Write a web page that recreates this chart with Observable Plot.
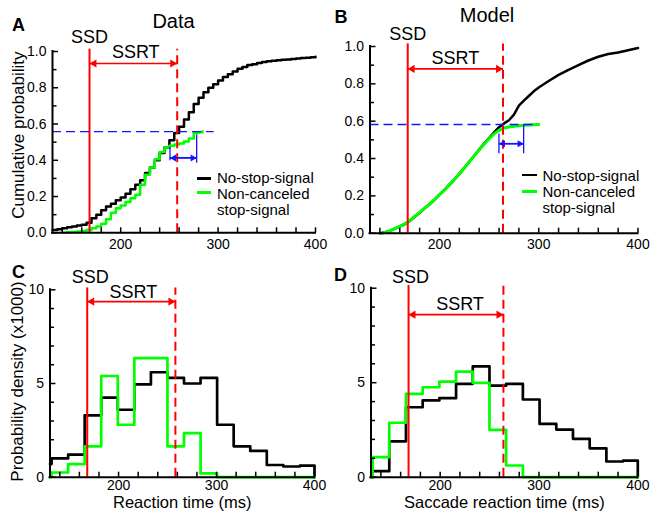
<!DOCTYPE html>
<html><head><meta charset="utf-8">
<script src="https://cdn.jsdelivr.net/npm/d3@7"></script>
<script src="https://cdn.jsdelivr.net/npm/@observablehq/plot@0.6"></script>
<style>
html,body{margin:0;padding:0;background:#fff;}
#fig{position:relative;width:651px;height:511px;overflow:hidden;font-family:"Liberation Sans",Arial,Helvetica,sans-serif;color:#000;}
.lg{position:absolute;font-size:15px;line-height:15px;white-space:nowrap;}
.sw{position:absolute;}
</style></head><body><div id="fig"></div>
<script>
// ---------- DATA ----------
const xDomain = [130, 400];
const xLabelTicks = [200, 300, 400];
const xMinorTicks = [140,160,180,200,220,240,260,280,300,320,340,360,380,400];
const cdfMajorTicks = [0,0.2,0.4,0.6,0.8,1.0];
const cdfMinorTicks = [0.1,0.3,0.5,0.7,0.9];
const pdfMajorTicks = [0,5,10];
const pdfMinorTicks = [1,2,3,4,6,7,8,9];

const ssd = 168;
const dataSsrtEnd = 258;
const modelSsrtEnd = 264;

// Panel A (data, cumulative)
const dataCdfTime = [130,135,140,145,150,155,160,165,170,175,180,185,190,195,200,205,210,215,220,225,230,235,240,245,250,255,260,265,270,275,280,285,290,295,300,305,310,315,320,325,330,335,340,345,350,355,360,365,370,375,380,385,390,395,400];
const dataNoStopCdf = [0.015,0.02,0.025,0.03,0.035,0.04,0.045,0.055,0.08,0.10,0.125,0.145,0.16,0.18,0.195,0.215,0.24,0.265,0.29,0.33,0.36,0.40,0.44,0.47,0.51,0.55,0.585,0.625,0.665,0.71,0.745,0.775,0.80,0.82,0.84,0.86,0.875,0.89,0.905,0.915,0.925,0.93,0.937,0.942,0.946,0.949,0.952,0.954,0.956,0.958,0.961,0.964,0.966,0.968,0.971];
const dataNcTime = [140,145,150,155,160,165,170,175,180,185,190,195,200,205,210,215,220,225,230,235,240,245,250,255,260,265,270,275,280,284];
const dataNonCanceledCdf = [0,0.003,0.005,0.007,0.01,0.015,0.025,0.035,0.05,0.075,0.11,0.135,0.15,0.17,0.19,0.21,0.265,0.32,0.36,0.405,0.445,0.47,0.48,0.487,0.493,0.503,0.52,0.55,0.555,0.56];

// Panel B (model, cumulative)
const modelCdfTime = [140,145,150,155,160,165,170,175,180,185,190,195,200,205,210,215,220,225,230,235,240,245,250,255,260,265,270,275,280,285,290,295,300,310,320,330,340,350,360,370,380,390,400];
const modelNoStopCdf = [0,0.005,0.012,0.025,0.036,0.048,0.065,0.088,0.11,0.133,0.155,0.18,0.207,0.232,0.26,0.288,0.318,0.35,0.383,0.415,0.448,0.48,0.51,0.54,0.568,0.588,0.605,0.635,0.683,0.71,0.735,0.76,0.78,0.815,0.848,0.875,0.9,0.925,0.945,0.96,0.968,0.98,0.992];
const modelNcTime = [143,145,150,155,160,165,170,175,180,185,190,195,200,205,210,215,220,225,230,235,240,245,250,255,260,265,270,275,280,285,290,300];
const modelNonCanceledCdf = [0,0.004,0.012,0.025,0.037,0.05,0.067,0.09,0.112,0.134,0.156,0.18,0.206,0.231,0.259,0.287,0.317,0.349,0.382,0.414,0.446,0.477,0.506,0.532,0.551,0.563,0.569,0.573,0.576,0.578,0.58,0.582];

// matched probability and RT shift (blue)
const dataMatch = {p: 0.558, dashEnd: 296, arrowY: 0.413};
const dataShiftBars = [{x: 250.6, y1: 0.398, y2: 0.471}, {x: 278, y1: 0.383, y2: 0.54}];
const modelMatch = {p: 0.582, dashEnd: 298, arrowY: 0.479};
const modelShiftBars = [{x: 259.9, y1: 0.425, y2: 0.532}, {x: 284.8, y1: 0.425, y2: 0.582}];

// Panels C, D (histograms, x1000); first bin is cut by the axis at 130
const histEdges = [130,131.6,148.5,165.4,182.3,199.2,216.1,233.0,249.9,266.8,283.7,300.6,317.5,334.4,351.3,368.2,385.1,400];
const dataNoStopPdf = [0.7,1.0,1.2,3.3,4.25,3.6,4.95,5.6,5.3,5.0,5.3,2.8,1.65,1.4,0.65,0.57,0.62];
const dataNonCanceledPdf = [0,0.25,0.7,1.65,5.4,2.8,6.35,6.35,1.65,2.35,0.2,0,0,0,0,0,0];
const modelNoStopPdf = [0,0.32,1.9,3.7,4.06,4.18,4.94,5.86,4.85,4.94,4.11,2.82,2.52,2.03,1.53,0.83,0.88];
const modelNonCanceledPdf = [0,1.06,2.88,4.41,4.76,5.06,5.59,4.99,2.5,0.62,0,0,0,0,0,0,0];

// ---------- DRAWING ----------
const FONT = '"Liberation Sans", Arial, Helvetica, sans-serif';
const RED = "#ff0000", GREEN = "#00ff00", BLUE = "#1414ff";
const STYLE = {background: "transparent", fontFamily: FONT, fontSize: "14px", color: "black", overflow: "visible"};
const fig = document.getElementById("fig");
const MID = {textAnchor: "middle", lineAnchor: "middle"};

const pts = (xs, ys) => xs.map((x, i) => ({x, y: ys[i]}));
function histPts(edges, vals) {
  const p = vals.map((v, i) => ({x: edges[i], y: v}));
  p.push({x: edges[edges.length - 1], y: vals[vals.length - 1]});
  p.push({x: edges[edges.length - 1], y: 0});
  return p;
}

function axes(g) {
  const fw = g.W - g.mL - g.mR, fh = g.H - g.mT - g.mB;
  const m = [
    Plot.ruleX(xMinorTicks, {insetTop: fh - 5, strokeWidth: 1.5}),
    Plot.ruleY(g.yMajor, {insetRight: fw - 6, strokeWidth: 1.5}),
    Plot.ruleY(g.yMinor, {insetRight: fw - 4.5, strokeWidth: 1.5}),
    Plot.axisX(xLabelTicks, {tickSize: 0, tickPadding: g.xPad, fontSize: 14, label: null}),
    Plot.axisY(g.yMajor, {tickSize: 0, tickPadding: 6, fontSize: 14, tickFormat: g.yFmt, label: null}),
    Plot.ruleX([xDomain[0]], {strokeWidth: 2, strokeLinecap: "square"}),
    Plot.ruleY([g.yDomain[0]], {strokeWidth: 2, strokeLinecap: "square"})
  ];
  if (g.yTitle) m.push(Plot.text([g.yTitle], {frameAnchor: "left", dx: g.yTitleDx, dy: g.yTitleDy, rotate: -90, fontSize: 17, ...MID}));
  if (g.xTitle) m.push(Plot.text([g.xTitle], {frameAnchor: "bottom", dy: 25.5, fontSize: 16.5, ...MID}));
  m.push(Plot.text([g.letter], {frameAnchor: "top-left", dx: g.letterDx, dy: g.letterDy, fontSize: 18, fontWeight: "bold", ...MID}));
  if (g.title) m.push(Plot.text([g.title], {frameAnchor: "top", dx: g.titleDx, dy: g.titleDy, fontSize: 20, ...MID}));
  return m;
}

function ssrtMarks(s) {
  const d = [s];
  return [
    Plot.ruleX(d, {x: "ssd", y1: 0, y2: "top", stroke: RED, strokeWidth: 2}),
    Plot.ruleX(d, {x: "end", y1: 0, y2: "top", stroke: RED, strokeWidth: 2, strokeDasharray: "9,5"}),
    Plot.link(d, {x1: "ssd", x2: "end", y1: "arrowY", y2: "arrowY", stroke: RED, strokeWidth: 1.6}),
    Plot.dot(d, {x: "ssd", y: "arrowY", symbol: "triangle", rotate: -90, r: 3, fill: RED, stroke: null, dx: 4.6}),
    Plot.dot(d, {x: "end", y: "arrowY", symbol: "triangle", rotate: 90, r: 3, fill: RED, stroke: null, dx: -4.6}),
    Plot.text(d, {x: "ssd", text: () => "SSD", frameAnchor: "top", dx: s.ssdDx, dy: s.ssdDy, fontSize: 18, ...MID}),
    Plot.text(d, {x: (v) => (v.ssd + v.end) / 2, y: "arrowY", text: () => "SSRT", dx: s.ssrtDx, dy: s.ssrtDy, fontSize: 18, ...MID})
  ];
}

function matchMarks(m, bars) {
  const a = [{x1: bars[0].x, x2: bars[1].x, y: m.arrowY}];
  return [
    Plot.ruleY([m], {y: "p", x1: xDomain[0], x2: "dashEnd", stroke: BLUE, strokeWidth: 1.4, strokeDasharray: "9,5"}),
    Plot.ruleX(bars, {x: "x", y1: "y1", y2: "y2", stroke: BLUE, strokeWidth: 1.3}),
    Plot.link(a, {x1: "x1", x2: "x2", y1: "y", y2: "y", stroke: BLUE, strokeWidth: 1.8}),
    Plot.dot(a, {x: "x1", y: "y", symbol: "triangle", rotate: -90, r: 2.6, fill: BLUE, stroke: null, dx: 4}),
    Plot.dot(a, {x: "x2", y: "y", symbol: "triangle", rotate: 90, r: 2.6, fill: BLUE, stroke: null, dx: -4})
  ];
}

function place(el, left, top) {
  el.style.position = "absolute";
  el.style.left = left + "px";
  el.style.top = top + "px";
  fig.appendChild(el);
}

// Panel A
const gA = {W: 330, H: 252, mL: 52, mR: 15, mT: 51, mB: 19.7, yDomain: [0, 1], yMajor: cdfMajorTicks, yMinor: cdfMinorTicks,
  yFmt: ".1f", xPad: 6, yTitle: "Cumulative probability", yTitleDx: -33.7, yTitleDy: -7, letter: "A", letterDx: -34, letterDy: -26,
  title: "Data", titleDx: -10.5, titleDy: -30.3};
place(Plot.plot({
  width: gA.W, height: gA.H, marginLeft: gA.mL, marginRight: gA.mR, marginTop: gA.mT, marginBottom: gA.mB, style: STYLE,
  x: {domain: xDomain}, y: {domain: gA.yDomain},
  marks: [
    Plot.line(pts(dataCdfTime, dataNoStopCdf), {x: "x", y: "y", curve: "step-after", stroke: "black", strokeWidth: 2.5}),
    Plot.line(pts(dataNcTime, dataNonCanceledCdf), {x: "x", y: "y", curve: "step-after", stroke: GREEN, strokeWidth: 2.5}),
    ...ssrtMarks({ssd, end: dataSsrtEnd, top: 1.013, arrowY: 0.934, ssdDx: 0, ssdDy: -14.3, ssrtDx: 2.4, ssrtDy: -11}),
    ...matchMarks(dataMatch, dataShiftBars),
    ...axes(gA)
  ]
}), 0, 0);

// Panel B
const gB = {W: 321, H: 252, mL: 39.5, mR: 13.5, mT: 46, mB: 19.3, yDomain: [0, 1], yMajor: cdfMajorTicks, yMinor: cdfMinorTicks,
  yFmt: ".1f", xPad: 5.5, letter: "B", letterDx: -29, letterDy: -29, title: "Model", titleDx: -17, titleDy: -31};
place(Plot.plot({
  width: gB.W, height: gB.H, marginLeft: gB.mL, marginRight: gB.mR, marginTop: gB.mT, marginBottom: gB.mB, style: STYLE,
  x: {domain: xDomain}, y: {domain: gB.yDomain},
  marks: [
    Plot.line(pts(modelCdfTime, modelNoStopCdf), {x: "x", y: "y", stroke: "black", strokeWidth: 2.5}),
    Plot.line(pts(modelNcTime, modelNonCanceledCdf), {x: "x", y: "y", stroke: GREEN, strokeWidth: 3}),
    ...ssrtMarks({ssd, end: modelSsrtEnd, top: 1.014, arrowY: 0.88, ssdDx: 0, ssdDy: -12.7, ssrtDx: 0, ssrtDy: -11}),
    ...matchMarks(modelMatch, modelShiftBars),
    ...axes(gB)
  ]
}), 330, 0);

// Panel C
const gC = {W: 330, H: 259, mL: 49.5, mR: 16, mT: 37.3, mB: 34.3, yDomain: [0, 10], yMajor: pdfMajorTicks, yMinor: pdfMinorTicks,
  yFmt: "d", xPad: 2.5, yTitle: "Probability density (x1000)", yTitleDx: -32.8, yTitleDy: -2, xTitle: "Reaction time (ms)",
  letter: "C", letterDx: -31.5, letterDy: -17.6};
place(Plot.plot({
  width: gC.W, height: gC.H, marginLeft: gC.mL, marginRight: gC.mR, marginTop: gC.mT, marginBottom: gC.mB, style: STYLE,
  x: {domain: xDomain}, y: {domain: gC.yDomain},
  marks: [
    Plot.line(histPts(histEdges, dataNoStopPdf), {x: "x", y: "y", curve: "step-after", stroke: "black", strokeWidth: 2.7}),
    Plot.line(histPts(histEdges, dataNonCanceledPdf), {x: "x", y: "y", curve: "step-after", stroke: GREEN, strokeWidth: 2.7}),
    ...ssrtMarks({ssd, end: dataSsrtEnd, top: 10.1, arrowY: 9.37, ssdDx: 3, ssdDy: -12.6, ssrtDx: 2, ssrtDy: -9.5}),
    ...axes(gC)
  ]
}), 0, 252);

// Panel D
const gD = {W: 321, H: 259, mL: 40.5, mR: 13.7, mT: 35.7, mB: 34.3, yDomain: [0, 10], yMajor: pdfMajorTicks, yMinor: pdfMinorTicks,
  yFmt: "d", xPad: 2.5, xTitle: "Saccade reaction time (ms)", letter: "D", letterDx: -30.5, letterDy: -12.7};
place(Plot.plot({
  width: gD.W, height: gD.H, marginLeft: gD.mL, marginRight: gD.mR, marginTop: gD.mT, marginBottom: gD.mB, style: STYLE,
  x: {domain: xDomain}, y: {domain: gD.yDomain},
  marks: [
    Plot.line(histPts(histEdges, modelNoStopPdf), {x: "x", y: "y", curve: "step-after", stroke: "black", strokeWidth: 2.7}),
    Plot.line(histPts(histEdges, modelNonCanceledPdf), {x: "x", y: "y", curve: "step-after", stroke: GREEN, strokeWidth: 2.7}),
    ...ssrtMarks({ssd, end: modelSsrtEnd, top: 10.14, arrowY: 8.6, ssdDx: 2, ssdDy: -11, ssrtDx: 4, ssrtDy: -10.7}),
    ...axes(gD)
  ]
}), 330, 252);

// Legends (HTML, placed over panels A and B)
const legendLabels = ["No-stop-signal", "Non-canceled", "stop-signal"];
function legend(swLeft, swWidth, swTops, textLeft, textTops) {
  [["black", 2.5], [GREEN, 3]].forEach(([c, h], i) => {
    const s = document.createElement("div");
    s.className = "sw";
    Object.assign(s.style, {left: swLeft + "px", top: swTops[i] + "px", width: swWidth + "px", height: h + "px", background: c});
    fig.appendChild(s);
  });
  legendLabels.forEach((t, i) => {
    const e = document.createElement("div");
    e.className = "lg";
    e.textContent = t;
    e.style.left = textLeft + "px";
    e.style.top = textTops[i] + "px";
    fig.appendChild(e);
  });
}
legend(196.7, 14, [177, 191.2], 217, [170.3, 186.3, 202.3]);
legend(521.7, 15, [173.7, 189.5], 542.5, [168.3, 184.3, 200.3]);
</script>
</body></html>
